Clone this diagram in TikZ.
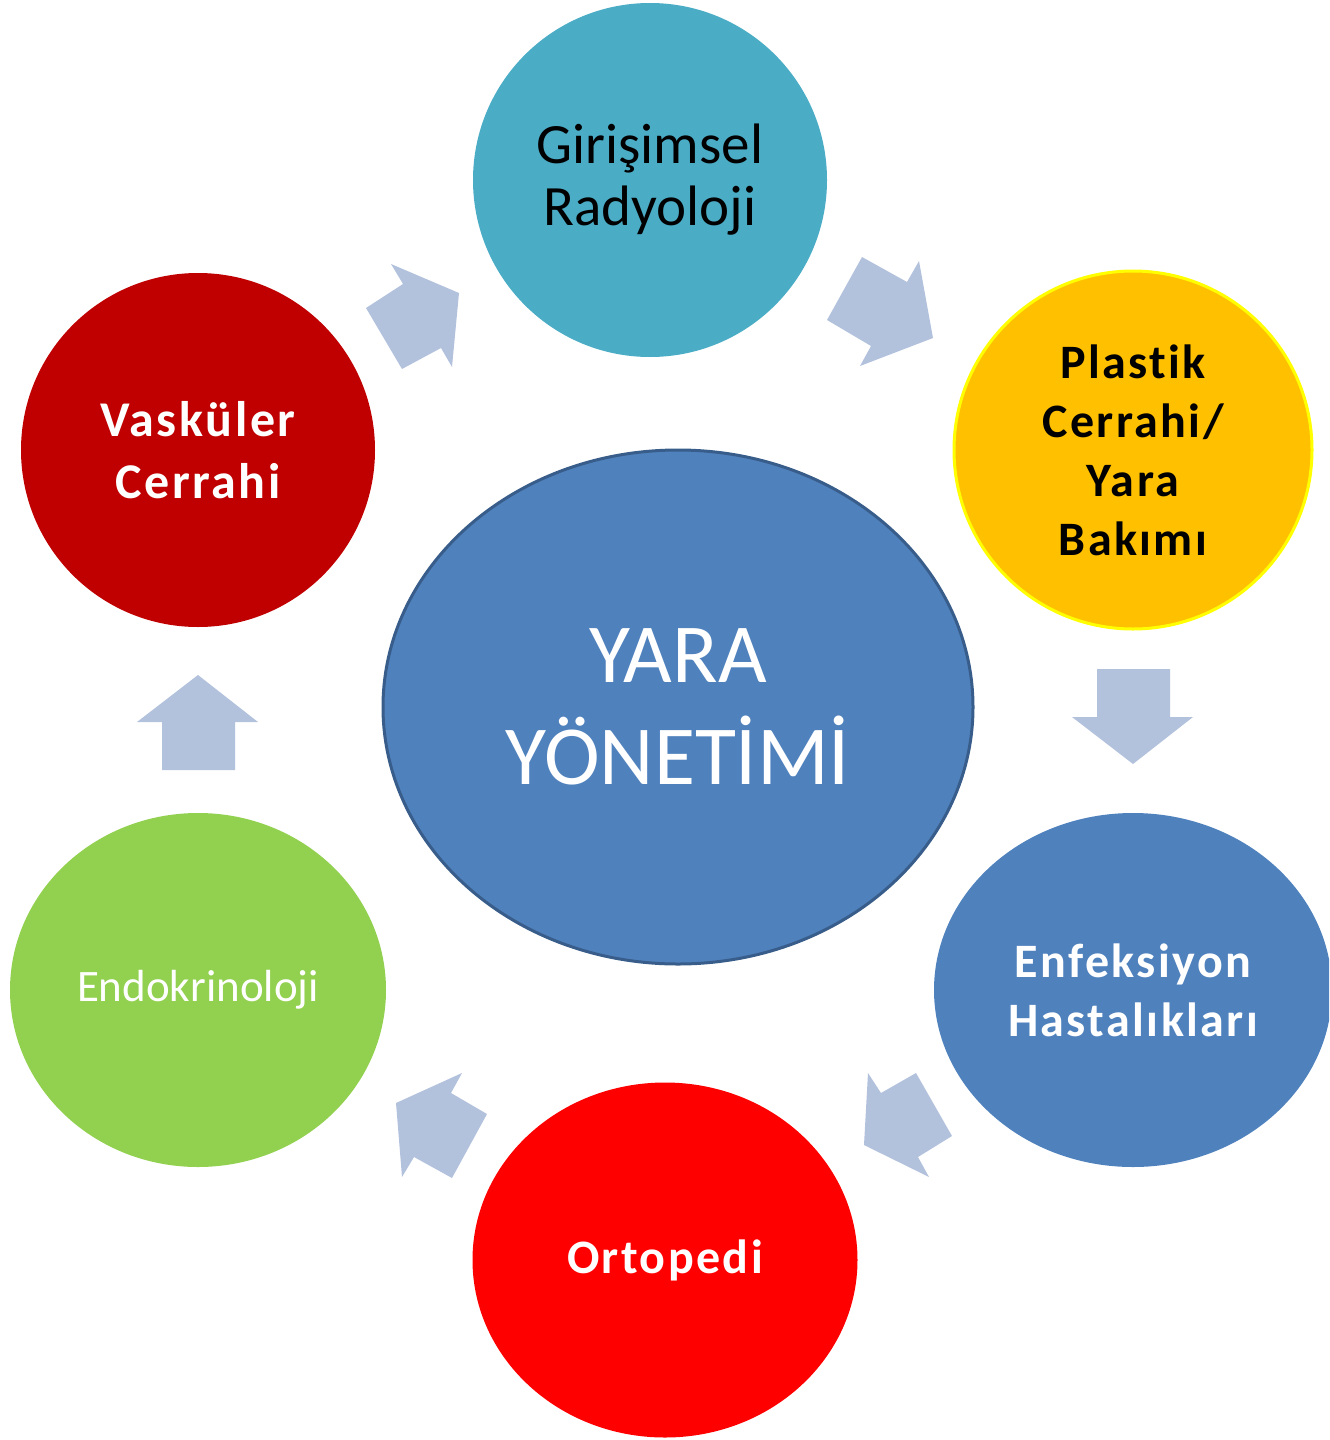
\documentclass[tikz,border=0pt]{standalone}
\usepackage{fontspec}
\setmainfont{Carlito}[Ligatures=NoCommon]
\newfontfamily\spacedfont{Carlito}[LetterSpace=5, Ligatures=NoCommon]
\usetikzlibrary{shapes.geometric}
\definecolor{cRad}{HTML}{4BACC6}
\definecolor{cPla}{HTML}{FFC000}
\definecolor{cPlaB}{HTML}{FFFF00}
\definecolor{cVas}{HTML}{C00000}
\definecolor{cMid}{HTML}{4F81BD}
\definecolor{cMidB}{HTML}{385D8A}
\definecolor{cOrt}{HTML}{FF0000}
\definecolor{cEnd}{HTML}{92D050}
\definecolor{cArr}{HTML}{B2C2DD}
\tikzset{
  disc/.style={ellipse, inner sep=0pt, align=center},
  blockarrow/.style={fill=cArr, draw=none},
  boldfont/.style={font=\spacedfont\fontsize{24}{29.5}\selectfont\bfseries}
}
\begin{document}
\begin{tikzpicture}[x=0.5pt,y=-0.5pt]
\useasboundingbox (0,0) rectangle (1329,1440);
\clip (0,0) rectangle (1329,1440);
% discs
\node[disc, fill=cRad, minimum width=177pt, minimum height=177pt, font=\fontsize{28.5}{31}\selectfont, text=black] (rad) at (650,180) {Girişimsel\\Radyoloji};
\node[disc, fill=cPla, draw=cPlaB, line width=1.5pt, minimum width=179pt, minimum height=179pt, boldfont, text=black] (pla) at (1133,450) {Plastik\\Cerrahi/\\Yara\\Bakımı};
\node[disc, fill=cVas, minimum width=177pt, minimum height=177pt, font=\spacedfont\fontsize{25}{31}\selectfont\bfseries, text=white] (vas) at (198,450) {Vasküler\\Cerrahi};
\node[disc, fill=cMid, draw=cMidB, line width=1.5pt, minimum width=295pt, minimum height=257pt, font=\fontsize{42}{51}\selectfont, text=white] (mid) at (678,707) {YARA\\YÖNETİMİ};
\node[disc, fill=cMid, minimum width=199pt, minimum height=177pt, boldfont, text=white] (enf) at (1133,990) {Enfeksiyon\\Hastalıkları};
\node[disc, fill=cOrt, minimum width=192.5pt, minimum height=177.5pt, boldfont, text=white] (ort) at (665,1260) {Ortopedi};
\node[disc, fill=cEnd, minimum width=188pt, minimum height=177pt, font=\fontsize{22.5}{27}\selectfont, text=white] (endo) at (198,990) {Endokrinoloji};
% block arrows
\fill[blockarrow] (366,308) -- (403,284) -- (391,264) -- (459,293) -- (452,367) -- (441,348) -- (402,369) -- cycle;
\fill[blockarrow] (862,257) -- (907,282) -- (919,261) -- (933,338) -- (860,366) -- (871,346) -- (827,320) -- cycle;
\fill[blockarrow] (1097,669) -- (1170,669) -- (1170,717) -- (1193,717) -- (1133,764) -- (1072,717) -- (1097,717) -- cycle;
\fill[blockarrow] (868,1073) -- (881,1093) -- (916,1073) -- (952,1136) -- (918,1157) -- (929,1177) -- (864,1145) -- cycle;
\fill[blockarrow] (462,1073) -- (451,1093) -- (487,1114) -- (452,1178) -- (414,1157) -- (402,1177) -- (396,1103) -- cycle;
\fill[blockarrow] (198,675) -- (258,722) -- (235,722) -- (235,770) -- (162,770) -- (162,722) -- (137,722) -- cycle;
\end{tikzpicture}
\end{document}
